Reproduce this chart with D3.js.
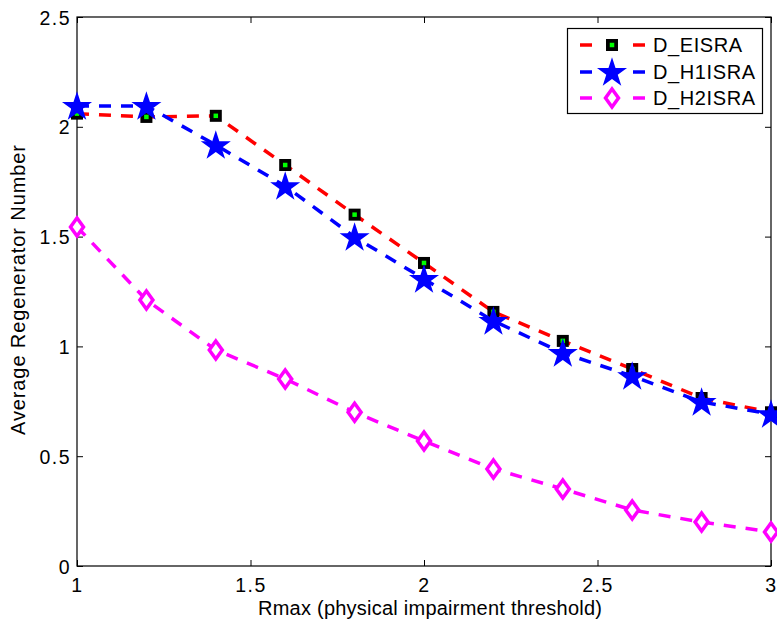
<!DOCTYPE html>
<html><head><meta charset="utf-8">
<script src="https://cdn.jsdelivr.net/npm/d3@7/dist/d3.min.js"></script>
<style>body{margin:0;background:#fff}svg{display:block;font-family:"Liberation Sans",Arial,sans-serif}</style>
</head><body><svg id="c" width="777" height="622"></svg>
<script>
const xVals = [1.0,1.2,1.4,1.6,1.8,2.0,2.2,2.4,2.6,2.8,3.0];
const eisra = [2.06,2.045,2.05,1.826,1.60,1.38,1.157,1.025,0.897,0.765,0.70];
const h1isra = [2.095,2.095,1.917,1.73,1.498,1.307,1.116,0.97,0.865,0.747,0.692];
const h2isra = [1.544,1.211,0.984,0.852,0.70,0.569,0.442,0.351,0.255,0.20,0.155];
const xTicks = [1,1.5,2,2.5,3];
const yTicks = [0,0.5,1,1.5,2,2.5];
const seriesNames = ["D_EISRA","D_H1ISRA","D_H2ISRA"];

const svg = d3.select("#c");
const L=77,R=771,T=17,B=566;
const x = d3.scaleLinear().domain([1,3]).range([L,R]);
const y = d3.scaleLinear().domain([0,2.5]).range([B,T]);

svg.append("rect").attr("x",L).attr("y",T).attr("width",R-L).attr("height",B-T)
  .attr("fill","none").attr("stroke","#000").attr("stroke-width",1.2);

const fs=19.5;
const xa = svg.append("g").attr("transform",`translate(0,${B})`)
  .call(d3.axisBottom(x).tickValues(xTicks).tickFormat(d3.format("")).tickSize(-6).tickPadding(12));
const xa2 = svg.append("g").attr("transform",`translate(0,${T})`)
  .call(d3.axisTop(x).tickValues(xTicks).tickFormat("").tickSize(-6));
const ya = svg.append("g").attr("transform",`translate(${L},0)`)
  .call(d3.axisLeft(y).tickValues(yTicks).tickFormat(d3.format("")).tickSize(-6).tickPadding(6));
const ya2 = svg.append("g").attr("transform",`translate(${R},0)`)
  .call(d3.axisRight(y).tickValues(yTicks).tickFormat("").tickSize(-6));
[xa,xa2,ya,ya2].forEach(g=>{
  g.select(".domain").remove();
  g.selectAll("line").attr("stroke","#000");
  g.selectAll("text").attr("font-size",fs).attr("fill","#000")
    .attr("font-family","Liberation Sans, Arial, sans-serif").attr("letter-spacing",1.5);
});
xa.selectAll("text").attr("dy","0.71em");
ya.selectAll("text").attr("dy","0.36em");

svg.append("text").attr("x",430).attr("y",615).attr("text-anchor","middle")
  .attr("font-size",20).attr("textLength",344).attr("lengthAdjust","spacing")
  .text("Rmax (physical impairment threshold)");
svg.append("text").attr("transform",`translate(25,290) rotate(-90)`).attr("text-anchor","middle")
  .attr("font-size",20).attr("textLength",290).attr("lengthAdjust","spacing")
  .text("Average Regenerator Number");

const line = d3.line().x((d,i)=>x(xVals[i])).y(d=>y(d));
const dash="12,10";
const colors=["#ff0000","#0000ff","#ff00ff"];

const star = d3.symbol().type(d3.symbolStar).size(280);

function drawMarker(g,type,cx,cy){
  if(type===0){
    g.append("rect").attr("x",cx-6).attr("y",cy-6).attr("width",12).attr("height",12).attr("fill","#000");
    g.append("rect").attr("x",cx-2.25).attr("y",cy-2.25).attr("width",4.5).attr("height",4.5).attr("fill","#00ff00");
  } else if(type===1){
    g.append("path").attr("d",star()).attr("transform",`translate(${cx},${cy+1})`).attr("fill","#0000ff");
  } else {
    g.append("path").attr("d",`M${cx},${cy-9}L${cx+6.5},${cy}L${cx},${cy+9}L${cx-6.5},${cy}Z`)
      .attr("fill","#fff").attr("stroke","#ff00ff").attr("stroke-width",3.5);
  }
}

[eisra,h1isra,h2isra].forEach((s,k)=>{
  svg.append("path").attr("d",line(s)).attr("fill","none").attr("stroke",colors[k])
    .attr("stroke-width",3.5).attr("stroke-dasharray",dash);
  const g=svg.append("g");
  s.forEach((v,i)=>drawMarker(g,k,x(xVals[i]),y(v)));
});

const lg=svg.append("g");
lg.append("rect").attr("x",567.5).attr("y",28.5).attr("width",195).attr("height",85)
  .attr("fill","#fff").attr("stroke","#000").attr("stroke-width",1.2);
const ly=[45,72,98];
seriesNames.forEach((n,k)=>{
  lg.append("line").attr("x1",580).attr("x2",645).attr("y1",ly[k]).attr("y2",ly[k])
    .attr("stroke",colors[k]).attr("stroke-width",3.5).attr("stroke-dasharray","12,41");
  drawMarker(lg,k,612,ly[k]);
  lg.append("text").attr("x",653).attr("y",ly[k]).attr("dy","0.36em").attr("font-size",20)
    .attr("letter-spacing",0.6).text(n);
});
</script></body></html>
